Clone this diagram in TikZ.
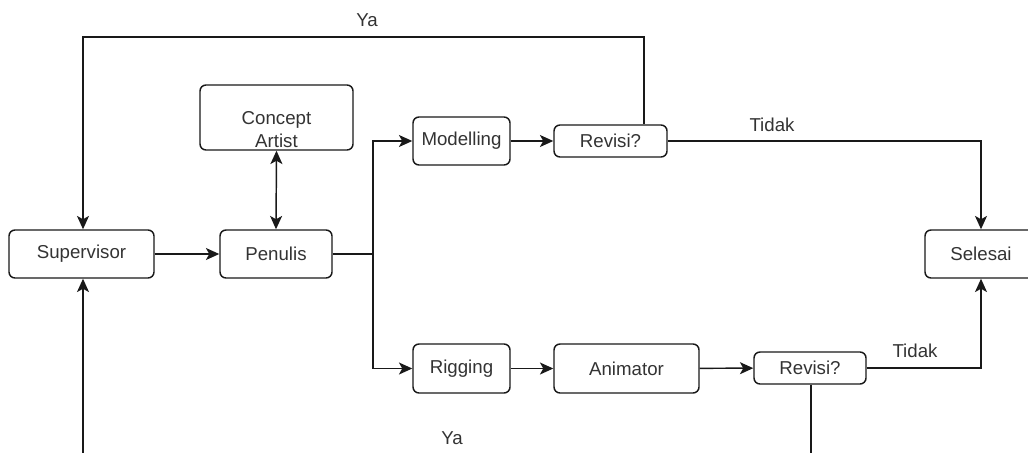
\documentclass[tikz,border=0pt]{standalone}
\usepackage{fontspec}
\setmainfont{Liberation Sans}
\usetikzlibrary{arrows.meta}
\definecolor{txt}{HTML}{333333}
\tikzset{
  box/.style={draw=black!90, line width=1.1pt, rounded corners=4.5pt, inner sep=0pt,
    font=\fontsize{14}{17}\selectfont, text=txt, align=center},
  conn/.style={draw=black!90, line width=1.1pt, -{Stealth[length=10pt,width=9pt,inset=2.5pt]}},
  dconn/.style={draw=black!90, line width=1.1pt, {Stealth[length=10pt,width=9pt,inset=2.5pt]}-{Stealth[length=10pt,width=9pt,inset=2.5pt]}},
  lbl/.style={font=\fontsize{14}{17}\selectfont, text=txt, inner sep=0pt}
}
\begin{document}
\begin{tikzpicture}[x=0.75pt,y=-0.75pt]
\useasboundingbox (0,0) rectangle (1028,453);
\clip (0,0) rectangle (1028,453);
\fill[white] (0,0) rectangle (1028,453);
% nodes
\node[box, minimum width=108.75pt, minimum height=36pt] (sup) at (81.5,254) {Supervisor};
\node[box, minimum width=84pt, minimum height=36pt] (pen) at (276,254) {Penulis};
\node[box, minimum width=114.75pt, minimum height=48.75pt] (ca) at (276.5,117.5) {};
\node[lbl, align=center] (catext) at (276.5,129.5) {Concept\\Artist};
\node[box, minimum width=72.75pt, minimum height=36pt] (mod) at (461.5,141) {Modelling};
\node[box, minimum width=84.75pt, minimum height=24pt] (rev1) at (610.5,141) {Revisi?};
\node[box, minimum width=72.75pt, minimum height=36.75pt] (rig) at (461.5,368.5) {Rigging};
\node[box, minimum width=108.75pt, minimum height=36.75pt] (ani) at (626.5,368.5) {Animator};
\node[box, minimum width=84pt, minimum height=24pt] (rev2) at (810,368) {Revisi?};
\node[box, minimum width=84pt, minimum height=36pt] (sel) at (981,254) {Selesai};
% coordinates
\coordinate (br) at (373,254);
\coordinate (topL) at (83,37);
\coordinate (topR) at (644,37);
\coordinate (botL) at (83,480);
\coordinate (botR) at (811,480);
% connectors
\draw[conn] (sup) -- (pen);
\draw[dconn] (ca.south) -- (pen.north);
\draw[line width=1.1pt, draw=black!90] (pen.east) -- (br);
\draw[conn] (br) |- (mod.west);
\draw[conn] (br) |- (rig.west);
\draw[conn] (mod) -- (rev1);
\draw[conn] (rev1.north -| topR) -- (topR) -- (topL) -- (sup.north -| topL);
\draw[conn] (rev1.east) -| (sel.north);
\draw[conn] (rig) -- (ani);
\draw[conn] (ani) -- (rev2);
\draw[conn] (rev2.east) -| (sel.south);
\draw[conn] (rev2.south -| botR) -- (botR) -- (botL) -- (sup.south -| botL);
% labels
\node[lbl] (ya1) at (367,20) {Ya};
\node[lbl] (td1) at (772,125) {Tidak};
\node[lbl] (td2) at (915,351) {Tidak};
\node[lbl] (ya2) at (452,438) {Ya};
\end{tikzpicture}
\end{document}
